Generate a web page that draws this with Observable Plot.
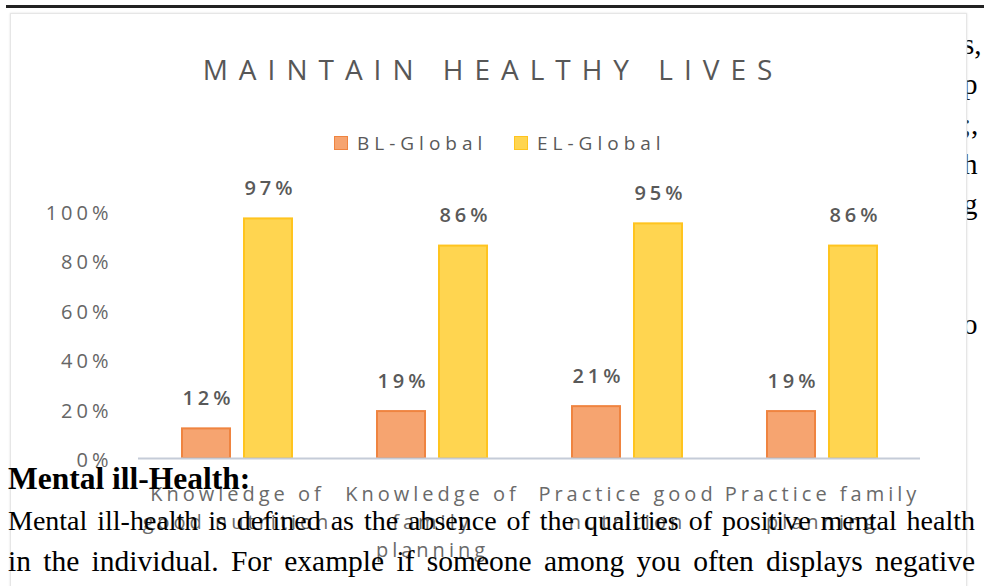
<!DOCTYPE html>
<html>
<head>
<meta charset="utf-8">
<script src="https://cdn.jsdelivr.net/npm/d3@7"></script>
<script src="https://cdn.jsdelivr.net/npm/@observablehq/plot@0.6"></script>
<style>
  html, body { margin: 0; padding: 0; background: #fff; }
  body { width: 984px; height: 586px; overflow: hidden; position: relative; }
  #rule { position: absolute; left: 6px; top: 5px; width: 978px; height: 3px; background: #222; }
  .frag { position: absolute; left: 963px; font-family: "Liberation Serif", serif; font-size: 29px; line-height: 40px; color: #000; z-index: 0; }
  #box { position: absolute; left: 10px; top: 13px; width: 955px; height: 600px; background: #fff; border: 1px solid #e6e6e6; box-shadow: 0 0 2px #e0e0e0; z-index: 1; }
  #chart { position: absolute; left: 0; top: 0; z-index: 2; }
  #chart svg text { letter-spacing: 4px; }
  #title { position: absolute; left: 0; width: 986px; top: 53px; text-align: center; font-family: "Open Sans", sans-serif; font-size: 28px; line-height: 32px; letter-spacing: 11px; color: #575757; z-index: 3; }
  .leg { position: absolute; top: 129px; font-family: "Open Sans", sans-serif; font-size: 19px; line-height: 28px; letter-spacing: 5px; color: #595959; z-index: 3; }
  .sw { position: absolute; top: 136px; width: 14px; height: 14px; z-index: 3; }
  .doc { position: absolute; left: 8px; font-family: "Liberation Serif", serif; color: #000; z-index: 5; white-space: nowrap; }
  .para { width: 967px; white-space: normal; text-align: justify; text-align-last: justify; line-height: 40px; }
</style>
</head>
<body>
<div id="rule"></div>
<div class="frag" style="top:24px">s,</div>
<div class="frag" style="top:64px">p</div>
<div class="frag" style="top:104px">;,</div>
<div class="frag" style="top:144px">h</div>
<div class="frag" style="top:184px">g</div>
<div class="frag" style="top:304px">o</div>
<div id="box"></div>
<div id="title">MAINTAIN HEALTHY LIVES</div>
<div id="legend"></div>
<div id="chart"></div>
<div class="doc" style="top:461px; font-size:31.5px; line-height:36px; font-weight:bold;">Mental ill-Health:</div>
<div class="doc para" style="top:501px; font-size:28px;">Mental ill-health is defined as the absence of the qualities of positive mental health</div>
<div class="doc para" style="top:541px; font-size:29.5px;">in the individual. For example if someone among you often displays negative</div>
<script>
// ---- data ----
const categories = ["Knowledge of good nutrition", "Knowledge of family planning", "Practice good nutrition", "Practice family planning"];
const categoryLabels = ["Knowledge of\ngood nutrition", "Knowledge of\nfamily\nplanning", "Practice good\nnutrition", "Practice family\nplanning"];
const series = ["BL-Global", "EL-Global"];
const blValues = [12, 19, 21, 19];
const elValues = [97, 86, 95, 86];
const yTicks = [0, 20, 40, 60, 80, 100];
const seriesFill = ["#F6A470", "#FFD550"];
const seriesStroke = ["#EF8440", "#FFC41F"];

const blRows = categories.map((c, i) => ({cat: c, series: series[0], value: blValues[i]}));
const elRows = categories.map((c, i) => ({cat: c, series: series[1], value: elValues[i]}));

// ---- legend (HTML) ----
const legend = document.getElementById("legend");
const legPos = [{sw: 334, tx: 357}, {sw: 514, tx: 537}];
series.forEach((s, i) => {
  const sw = document.createElement("div");
  sw.className = "sw";
  sw.style.left = legPos[i].sw + "px";
  sw.style.background = seriesFill[i];
  sw.style.border = "1px solid " + seriesStroke[i];
  sw.style.boxSizing = "border-box";
  legend.appendChild(sw);
  const t = document.createElement("div");
  t.className = "leg";
  t.style.left = legPos[i].tx + "px";
  t.textContent = s;
  legend.appendChild(t);
});

// ---- chart ----
const chart = Plot.plot({
  width: 984,
  height: 586,
  marginTop: 211,
  marginBottom: 128,
  marginLeft: 138,
  marginRight: 64,
  style: {background: "transparent", fontFamily: "'Open Sans', sans-serif", fontSize: "20px", color: "#595959", overflow: "visible"},
  x: {domain: categories, paddingInner: 0.7545, paddingOuter: 0.37725, axis: null},
  y: {domain: [0, 100], axis: null},
  marks: [
    Plot.axisY(yTicks, {tickFormat: d => d + "%", tickSize: 0, tickPadding: 26, fontSize: 20, fill: "#666", label: null, dy: 2}),
    Plot.barY(blRows, {x: "cat", y: "value", dx: -31, fill: seriesFill[0], stroke: seriesStroke[0], strokeWidth: 2}),
    Plot.barY(elRows, {x: "cat", y: "value", dx: 31, fill: seriesFill[1], stroke: seriesStroke[1], strokeWidth: 2}),
    Plot.ruleY([0], {stroke: "#C5CCD8", strokeWidth: 2}),
    Plot.text(blRows, {x: "cat", y: "value", text: d => d.value + "%", dx: -29, dy: -30, fontSize: 20, fontWeight: 600, fill: "#595959"}),
    Plot.text(elRows, {x: "cat", y: "value", text: d => d.value + "%", dx: 33, dy: -30, fontSize: 20, fontWeight: 600, fill: "#595959"}),
    Plot.text(categories, {x: d => d, text: (d, i) => categoryLabels[i], frameAnchor: "bottom", lineAnchor: "top", dy: 23, lineHeight: 1.4, fontSize: 20, fill: "#6a6a6a"})
  ]
});
document.getElementById("chart").appendChild(chart);
</script>
</body>
</html>
